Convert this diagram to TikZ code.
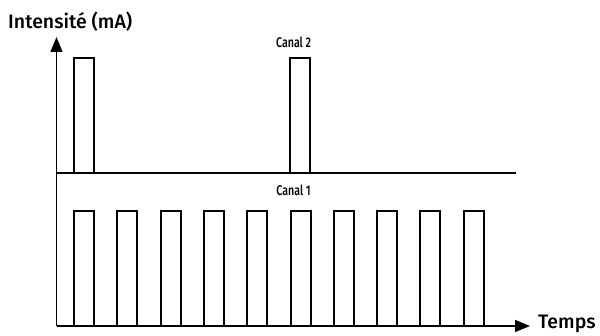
\documentclass[tikz,border=0pt]{standalone}
\usepackage{fontspec}
\setmainfont{Fira Sans Medium}
\newfontfamily\etroite{Fira Sans Medium}[FakeStretch=0.76]
\usetikzlibrary{arrows.meta}
\begin{document}
\begin{tikzpicture}[x=1pt, y=-1pt,
    axe/.style={line width=1.2pt, -{Triangle[length=15pt, width=12pt]}},
    base/.style={line width=1.2pt},
    impulsion/.style={line width=2pt, line join=miter},
    titre/.style={font=\fontsize{19.5}{22}\selectfont},
    canal/.style={font=\etroite\fontsize{14}{16}\selectfont}]
    \useasboundingbox (0,0) rectangle (600,336);

    % Axes
    \coordinate (origine) at (56.5,326);
    \coordinate (haut) at (56.5,37);
    \coordinate (fin) at (530,326);
    \draw[axe] (origine) -- (haut);
    \draw[axe] (origine) -- (fin);
    \node[titre, anchor=west, inner sep=0pt] (intensite) at (8,22) {Intensité (mA)};
    \node[titre, anchor=west, inner sep=0pt] (temps) at (538,324) {Temps};

    % Canal 2
    \coordinate (base2) at (56.5,173);
    \coordinate (fin2) at (516,173);
    \draw[base] (base2) -- (fin2);
    \node[canal] (canal2) at (293.5,42) {Canal 2};
    \foreach \x in {74,290}
        \draw[impulsion] (\x,173) -- (\x,58) -- (\x+20,58) -- (\x+20,173);

    % Canal 1
    \node[canal] (canal1) at (293.5,190) {Canal 1};
    \foreach \i in {0,...,9}
        \draw[impulsion] (74+43.3*\i,326) -- (74+43.3*\i,211)
            -- (94+43.3*\i,211) -- (94+43.3*\i,326);
\end{tikzpicture}
\end{document}
